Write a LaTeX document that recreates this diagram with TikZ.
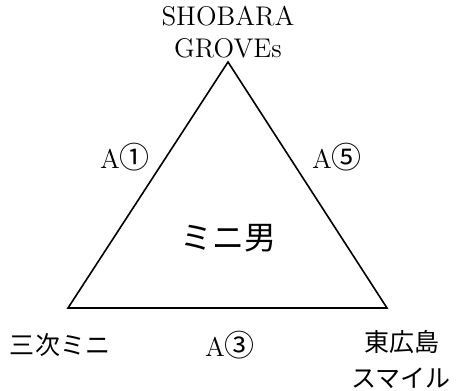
\documentclass[tikz,border=0pt]{standalone}
\usepackage{fontspec}
\newfontfamily\jafont{Noto Sans CJK JP}
\usepackage{tikz}
\usetikzlibrary{positioning, calc}
\newcommand{\cnum}[1]{{\fontsize{15}{16}\selectfont\jafont #1}}

\begin{document}
\begin{tikzpicture}[x=0.5pt, y=-0.5pt, line width=0.8pt,
				Lab/.style={
				font=\fontsize{13.5}{16}\selectfont,
				align=center,
				inner sep=0pt
				},
				Jlab/.style={
				font=\fontsize{12.5}{18}\selectfont\jafont,
				align=center,
				inner sep=0pt
				}]
				\useasboundingbox (0,0) rectangle (458,390);
				% vertices
				\coordinate (top) at (228,62);
				\coordinate (left) at (68,308);
				\coordinate (right) at (387,308);
				\draw (top) -- (left) -- (right) -- cycle;
				% corner names
				\node[Lab, anchor=base] (shobara) at (228,58) {SHOBARA\\GROVEs};
				\node[Jlab] (miyoshi) at (60,345) {三次ミニ};
				\node[Jlab] (higashi) at (402,342) {東広島};
				\node[Jlab] (smile) at (401,378) {スマイル};
				% edges
				\node[Lab] (a1) at (125,157) {A\cnum{①}};
				\node[Lab] (a5) at (337,157) {A\cnum{⑤}};
				\node[Lab] (a3) at (230,345) {A\cnum{③}};
				% centre
				\node[Jlab, font=\fontsize{16}{18}\selectfont\jafont] (mini) at (228,238) {ミニ男};
			\end{tikzpicture}
\end{document}
